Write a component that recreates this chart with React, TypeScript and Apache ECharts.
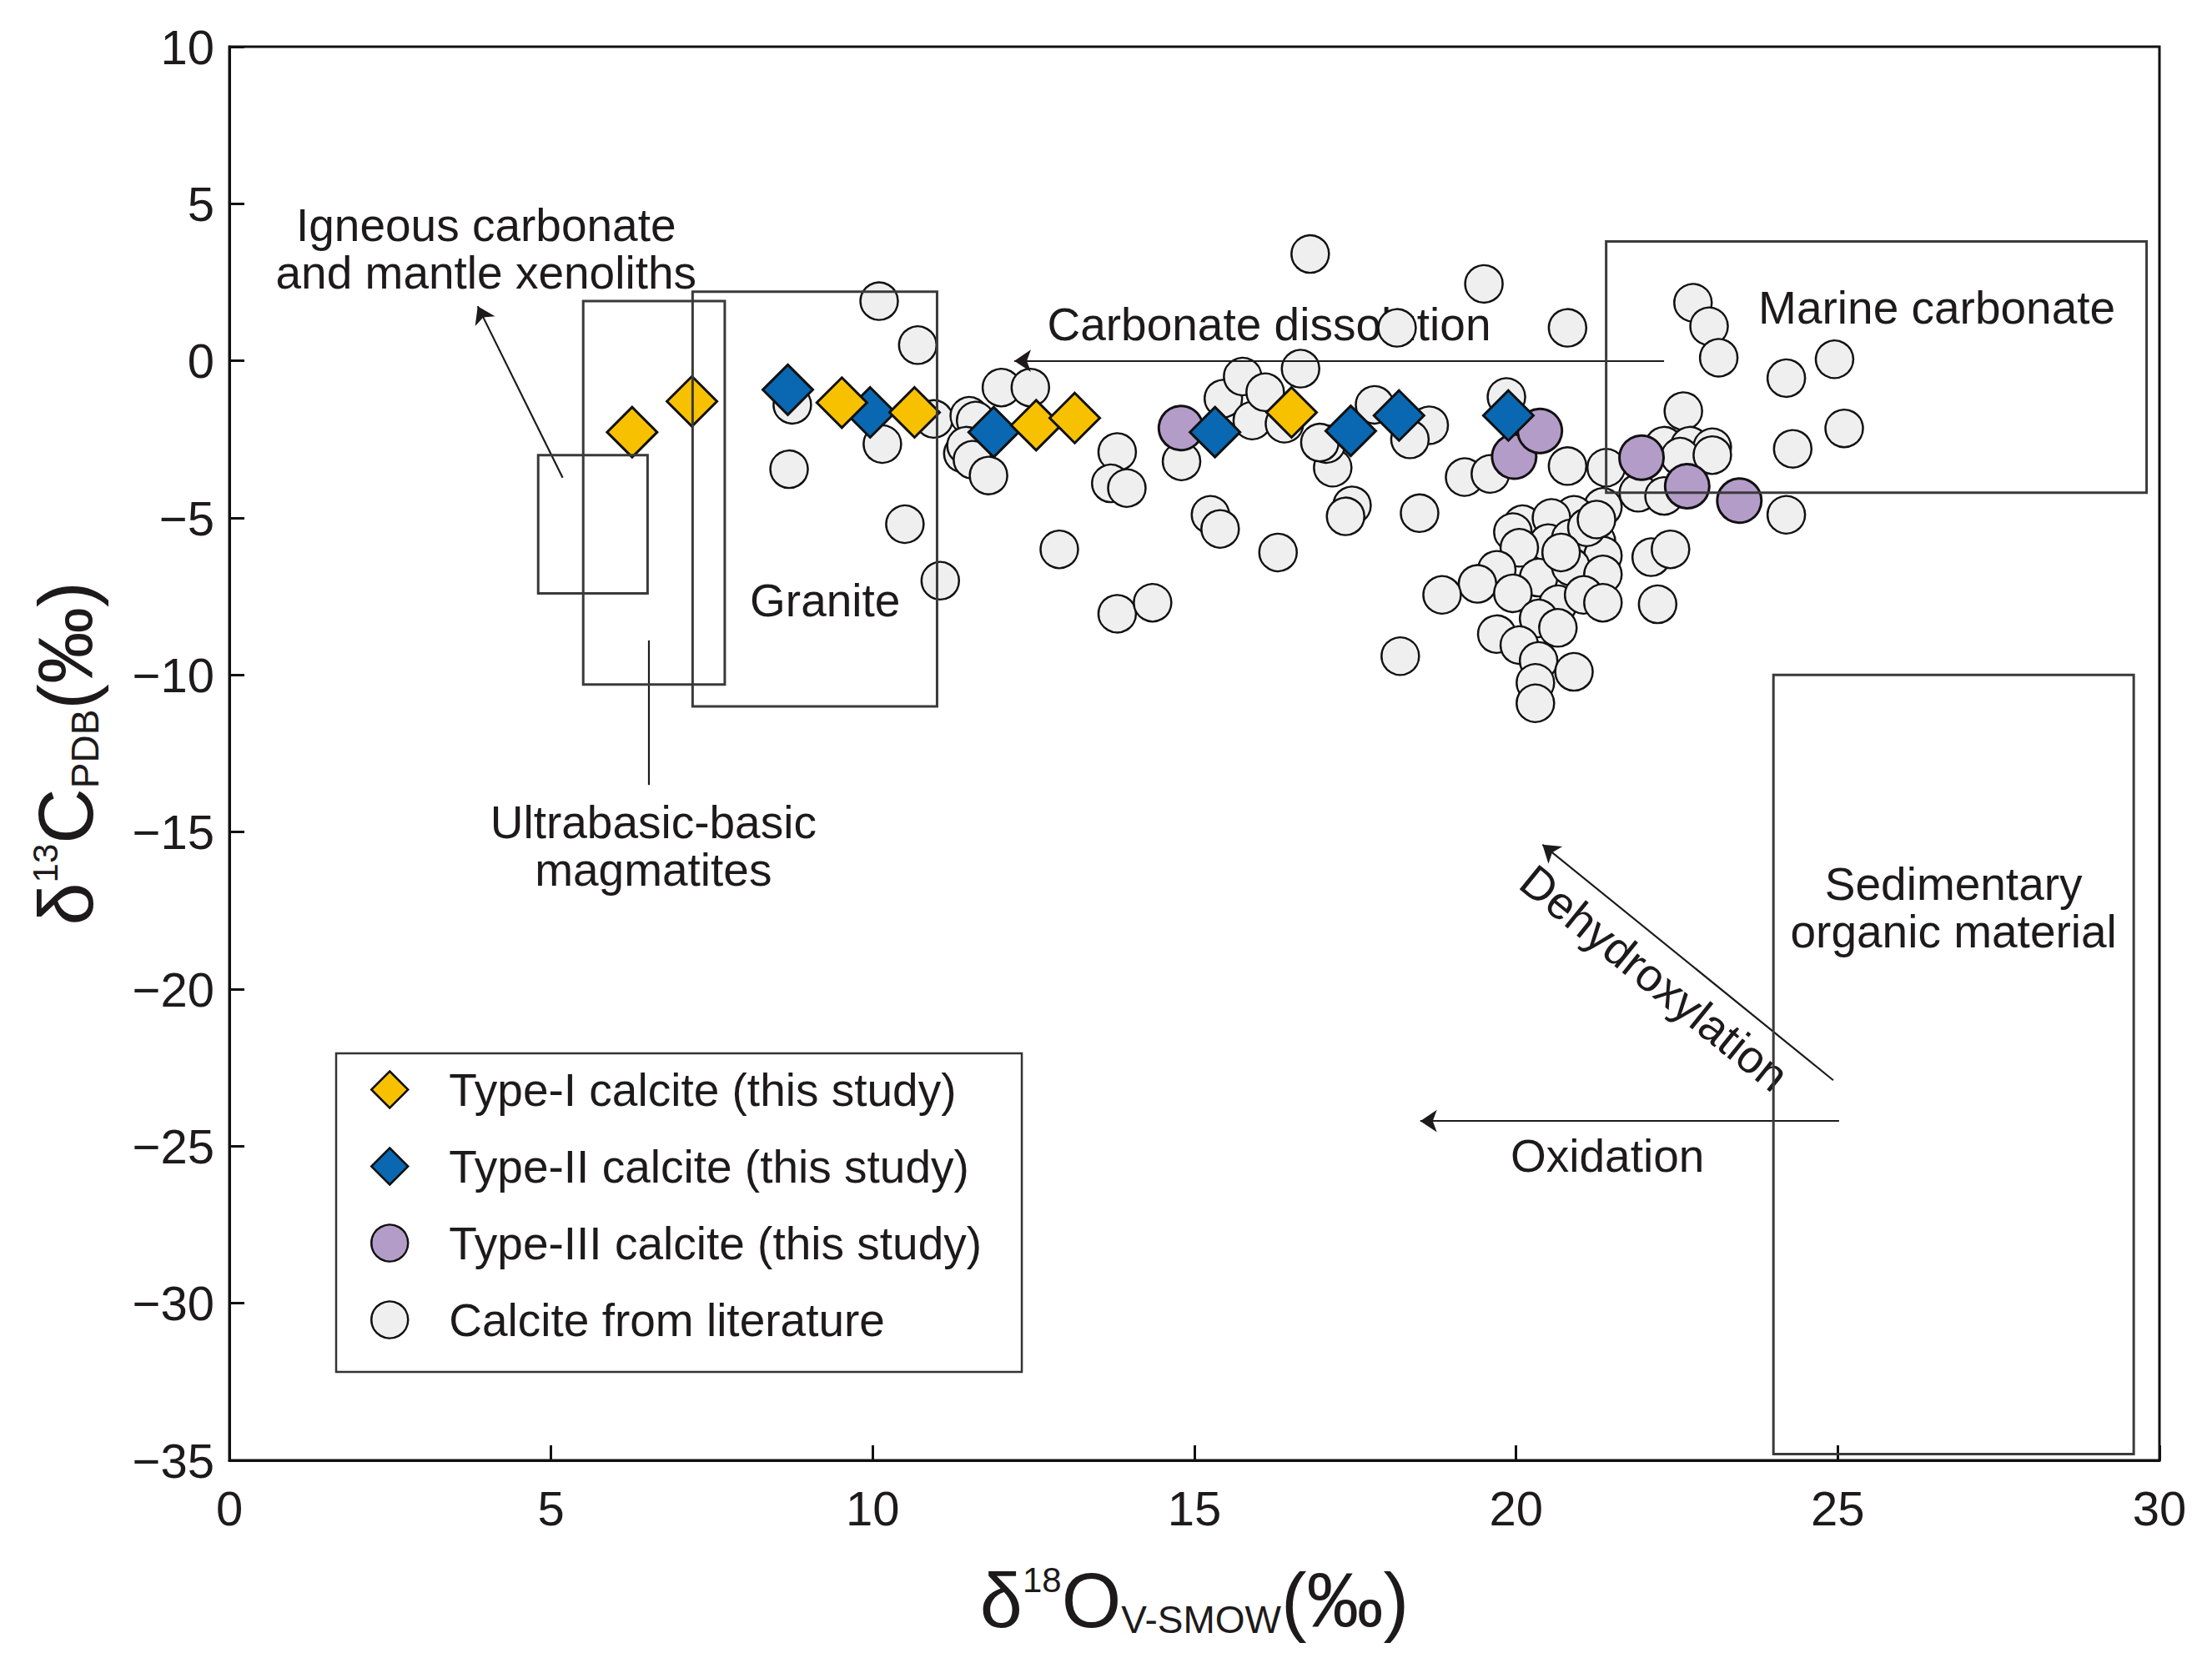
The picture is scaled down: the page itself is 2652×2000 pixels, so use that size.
import React, { useEffect, useRef } from "react";
import * as echarts from "echarts";

// ---------- data (δ18O V-SMOW ‰, δ13C PDB ‰) ----------
const typeI: number[][] = [
  [6.26, -2.27], [7.19, -1.29], [9.52, -1.33], [10.65, -1.64],
  [12.54, -2.05], [13.14, -1.82], [16.51, -1.64],
];
const typeII: number[][] = [
  [8.68, -0.92], [9.96, -1.64], [11.88, -2.27], [15.32, -2.27],
  [17.43, -2.23], [18.18, -1.74], [19.88, -1.74],
];
const typeIII: number[][] = [
  [14.79, -2.14], [19.97, -3.05], [20.37, -2.23], [21.95, -3.08],
  [22.66, -3.99], [23.47, -4.45],
];
const literature: number[][] = [
  [16.8, 3.4], [19.5, 2.45], [20.8, 1.05], [18.15, 1.05], [10.1, 1.9], [10.7, 0.5],
  [22.75, 1.85], [23.0, 1.1], [23.15, 0.1], [24.95, 0.05], [24.2, -0.55], [25.1, -2.15],
  [24.3, -2.8], [24.2, -4.9], [22.6, -1.6], [22.3, -2.7], [22.7, -2.7], [23.05, -2.75],
  [22.1, -6.25], [22.4, -6.0], [21.9, -4.2], [22.3, -4.3], [22.55, -3.05], [23.05, -3.0],
  [8.75, -1.4], [8.7, -3.45], [10.15, -2.65], [10.95, -1.85], [11.5, -1.75], [11.6, -1.9],
  [12.0, -0.85], [12.45, -0.85], [11.4, -2.95], [11.45, -2.7], [11.55, -3.15], [11.8, -3.65],
  [10.5, -5.2], [11.05, -7.0], [12.9, -6.0], [13.8, -2.9], [13.7, -3.9], [13.95, -4.05],
  [13.8, -8.05], [14.35, -7.7], [14.8, -3.2], [15.45, -1.2], [15.75, -0.5], [16.65, -0.25],
  [15.9, -1.9], [16.1, -1.0], [16.4, -2.0], [15.25, -4.9], [15.4, -5.35], [16.3, -6.1],
  [17.15, -3.4], [17.05, -2.65], [17.45, -4.6], [17.35, -4.95], [17.8, -1.4], [16.95, -2.6],
  [18.65, -2.05], [18.35, -2.5], [19.85, -1.15], [18.5, -4.85],
  [19.2, -3.7], [19.6, -3.6], [20.8, -3.35], [21.4, -3.4], [21.35, -4.65], [20.9, -4.9],
  [20.1, -5.2], [20.55, -5.0], [19.95, -5.45], [20.5, -5.8], [20.85, -5.65], [20.05, -5.95],
  [21.25, -5.75], [21.35, -6.2], [19.7, -6.65], [20.35, -6.9], [20.85, -6.55], [21.35, -6.8],
  [19.4, -7.1], [18.85, -7.45], [19.95, -7.4], [20.65, -7.75], [21.05, -7.45], [21.35, -7.7],
  [22.2, -7.75], [20.35, -8.2], [20.65, -8.5], [19.7, -8.7], [20.05, -9.05], [20.35, -9.55],
  [20.9, -9.9], [20.3, -10.25], [20.3, -10.9], [18.2, -9.4], [21.1, -5.3], [21.25, -5.05],
  [20.7, -6.1],
];

// field boxes: [x1, y1, x2, y2]
const fieldBoxes: number[][] = [
  [4.8, -3.0, 6.5, -7.4],
  [5.5, 1.9, 7.7, -10.3],
  [7.2, 2.2, 11.0, -11.0],
  [21.4, 3.8, 29.8, -4.2],
  [24.0, -10.0, 29.6, -34.8],
];
// arrows: [xFrom, yFrom, xTo, yTo]
const arrows: number[][] = [
  [22.3, 0.0, 12.2, 0.0],
  [5.18, -3.72, 3.86, 1.74],
  [24.93, -22.9, 20.41, -15.4],
  [25.02, -24.2, 18.51, -24.2],
];
const leaderLines: number[][] = [[6.52, -8.9, 6.52, -13.5]];

// annotation texts
const noteTexts = [
  "Igneous carbonate\nand mantle xenoliths",
  "Carbonate dissolution",
  "Marine carbonate",
  "Granite",
  "Ultrabasic-basic\nmagmatites",
  "Sedimentary\norganic material",
  "Dehydroxylation",
  "Oxidation",
];
const noteX = [3.99, 16.16, 26.54, 9.26, 6.59, 26.8, 22.15, 21.42];
const noteY = [3.55, 1.16, 1.7, -7.64, -15.45, -17.4, -19.65, -25.3];
const noteRotate = [0, 0, 0, 0, 0, 0, -39, 0];

const seriesNames = [
  "Type-I calcite (this study)",
  "Type-II calcite (this study)",
  "Type-III calcite (this study)",
  "Calcite from literature",
];

const FONT = "'Liberation Sans', Arial, Helvetica, sans-serif";
const INK = "#1e1a1b";

function fmt(v: number) {
  return v < 0 ? "\u2212" + Math.abs(v) : String(v);
}

export default function App() {
  const ref = useRef<HTMLDivElement>(null);

  useEffect(() => {
    if (!ref.current) return;
    const chart = echarts.init(ref.current, undefined, { renderer: "svg" });

    const nameRich = {
      b: { fontSize: 92, fontFamily: FONT, color: INK },
      sup: { fontSize: 42, fontFamily: FONT, color: INK, verticalAlign: "top" },
      sub: { fontSize: 46, fontFamily: FONT, color: INK, verticalAlign: "bottom" },
    };

    const option: any = {
      animation: false,
      backgroundColor: "#ffffff",
      grid: {
        left: 275, right: 63, top: 56, bottom: 249,
        show: true, borderColor: "#111", borderWidth: 3, backgroundColor: "transparent",
      },
      xAxis: {
        type: "value", min: 0, max: 30, interval: 5,
        axisLine: { show: true, onZero: false, lineStyle: { color: "#111", width: 3 } },
        axisTick: { show: true, inside: true, length: 18, lineStyle: { color: "#111", width: 3 } },
        axisLabel: { fontSize: 58, fontFamily: FONT, color: INK, margin: 28, formatter: fmt },
        splitLine: { show: false },
        name: "{b|δ}{sup|18}{b|O}{sub|V-SMOW}{b|(‰)}",
        nameLocation: "middle", nameGap: 122,
        nameTextStyle: { rich: nameRich },
      },
      yAxis: {
        type: "value", min: -35, max: 10, interval: 5,
        axisLine: { show: true, onZero: false, lineStyle: { color: "#111", width: 3 } },
        axisTick: { show: true, inside: true, length: 18, lineStyle: { color: "#111", width: 3 } },
        axisLabel: { fontSize: 58, fontFamily: FONT, color: INK, margin: 18, formatter: fmt },
        splitLine: { show: false },
        name: "{b|δ}{sup|13}{b|C}{sub|PDB}{b|(‰)}",
        nameLocation: "middle", nameGap: 150, nameRotate: 90,
        nameTextStyle: { rich: nameRich },
      },
      legend: {
        data: seriesNames,
        orient: "vertical",
        left: 403, top: 1263,
        padding: [16, 48, 35, 41],
        itemWidth: 44, itemHeight: 44, itemGap: 37,
        borderColor: "#333", borderWidth: 2.5,
        backgroundColor: "#ffffff",
        itemStyle: { borderWidth: 2.5 },
        textStyle: { fontSize: 55, fontFamily: FONT, color: INK, padding: [0, 0, 0, 44] },
        selectedMode: false,
      },
      series: [
        {
          name: seriesNames[3], type: "scatter", data: literature, z: 2,
          symbol: "circle", symbolSize: 45, silent: true,
          itemStyle: { color: "#efefef", borderColor: "#111", borderWidth: 2.5, opacity: 1 },
        },
        {
          name: seriesNames[2], type: "scatter", data: typeIII, z: 3,
          symbol: "circle", symbolSize: 53, silent: true,
          itemStyle: { color: "#b49cc9", borderColor: "#111", borderWidth: 3, opacity: 1 },
        },
        {
          name: seriesNames[1], type: "scatter", data: typeII, z: 4,
          symbol: "diamond", symbolSize: 60, silent: true,
          itemStyle: { color: "#0a67b1", borderColor: "#111", borderWidth: 3, opacity: 1 },
        },
        {
          name: seriesNames[0], type: "scatter", data: typeI, z: 5,
          symbol: "diamond", symbolSize: 60, silent: true,
          itemStyle: { color: "#f8c100", borderColor: "#111", borderWidth: 3, opacity: 1 },
        },
        {
          name: "fields", type: "custom", z: 6, silent: true,
          data: fieldBoxes,
          encode: { x: [0, 2], y: [1, 3] },
          renderItem: (params: any, api: any) => {
            const p1 = api.coord([api.value(0), api.value(1)]);
            const p2 = api.coord([api.value(2), api.value(3)]);
            return {
              type: "rect",
              shape: {
                x: Math.min(p1[0], p2[0]), y: Math.min(p1[1], p2[1]),
                width: Math.abs(p2[0] - p1[0]), height: Math.abs(p2[1] - p1[1]),
              },
              style: { fill: "none", stroke: "#3a3a3a", lineWidth: 3 },
            };
          },
        },
        {
          name: "notes", type: "scatter", z: 1, silent: true,
          symbolSize: 1,
          itemStyle: { color: "#ffffff", opacity: 1 },
          data: noteTexts.map((t, i) => ({
            value: [noteX[i], noteY[i]],
            label: { formatter: t, rotate: noteRotate[i] },
          })),
          label: {
            show: true, position: "inside", align: "center", verticalAlign: "middle",
            fontSize: 55, lineHeight: 57, fontFamily: FONT, color: INK,
            opacity: 1, textBorderWidth: 0,
          },
          markLine: {
            silent: true,
            symbol: ["none", "arrow"],
            symbolSize: 20,
            label: { show: false },
            emphasis: { disabled: true },
            lineStyle: { color: INK, width: 2.2, type: "solid", opacity: 1 },
            data: [
              ...arrows.map((a) => [{ coord: [a[0], a[1]] }, { coord: [a[2], a[3]] }]),
              ...leaderLines.map((a) => [
                { coord: [a[0], a[1]], symbol: "none" },
                { coord: [a[2], a[3]], symbol: "none" },
              ]),
            ],
          },
        },
      ],
    };

    chart.setOption(option);
    return () => chart.dispose();
  }, []);

  return (
    <div
      ref={ref}
      style={{ position: "absolute", left: 0, top: 0, width: 2652, height: 2000, background: "#fff" }}
    />
  );
}
